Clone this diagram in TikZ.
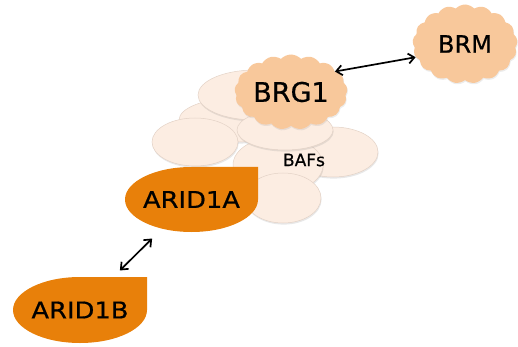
\documentclass[tikz,border=0pt]{standalone}
\usepackage{fontspec}
\usetikzlibrary{shapes.symbols,arrows.meta,shadows}
\newfontfamily\labelfont[FakeBold=0.6]{DejaVu Sans}
\newfontfamily\aridfont[FakeStretch=1.12,FakeBold=0.6]{DejaVu Sans}
\definecolor{bafc}{HTML}{FCEDE2}
\definecolor{bafline}{HTML}{E3D2C6}
\definecolor{cloudc}{HTML}{F8C89B}
\definecolor{aridc}{HTML}{E8800A}
\begin{document}
\begin{tikzpicture}[x=1pt,y=-1pt,
  baf/.style={fill=bafc, draw=bafline, line width=0.5pt,
    drop shadow={opacity=0.18, shadow xshift=0.6pt, shadow yshift=-1.6pt}},
  cloudnode/.style={cloud, cloud puffs=17, cloud puff arc=95, cloud ignores aspect,
    fill=cloudc, draw=none, inner sep=0pt,
    drop shadow={opacity=0.15, shadow xshift=0.6pt, shadow yshift=-1.4pt}},
  arid/.style 2 args={rectangle, inner sep=0pt, minimum width=#1, minimum height=#2,
    font=\aridfont\fontsize{23}{23}\selectfont,
    path picture={\fill[aridc] (path picture bounding box.north east)
      -- (path picture bounding box.east)
      arc[start angle=0, end angle=-270, x radius=#1/2, y radius=#2/2] -- cycle;}},
  link/.style={{Straight Barb[length=6pt,width=10pt]}-{Straight Barb[length=6pt,width=10pt]},
    line width=1.7pt, black}]
\useasboundingbox (0,0) rectangle (518,347);
% BAF subunits
\path[baf] (237,120) ellipse[x radius=58pt, y radius=22pt];
\path[baf] (255,95) ellipse[x radius=57pt, y radius=25pt];
\path[baf] (195,142) ellipse[x radius=43pt, y radius=24pt];
\path[baf] (333,152) ellipse[x radius=45pt, y radius=25pt];
\path[baf] (278,165) ellipse[x radius=45pt, y radius=28pt];
\path[baf] (285,130) ellipse[x radius=48pt, y radius=20pt];
\path[baf] (283,198) ellipse[x radius=38pt, y radius=25pt];
\node[font=\labelfont\fontsize{17}{17}\selectfont] (bafs) at (304,160) {BAFs};
% clouds
\node[cloudnode, minimum width=113pt, minimum height=75pt,
  font=\labelfont\fontsize{27}{27}\selectfont] (brg1) at (291,92) {BRG1};
\node[cloudnode, minimum width=105pt, minimum height=79pt,
  font=\labelfont\fontsize{24}{24}\selectfont] (brm) at (465,44) {BRM};
% ARID subunits
\node[arid={133pt}{65pt}] (arid1a) at (191.5,199.5) {ARID1A};
\node[arid={134pt}{66pt}] (arid1b) at (80,310) {ARID1B};
% interactions
\draw[link] (brg1.25) -- (brm.195);
\draw[link, shorten <=9pt, shorten >=9pt] (arid1b) -- (arid1a);
\end{tikzpicture}
\end{document}
